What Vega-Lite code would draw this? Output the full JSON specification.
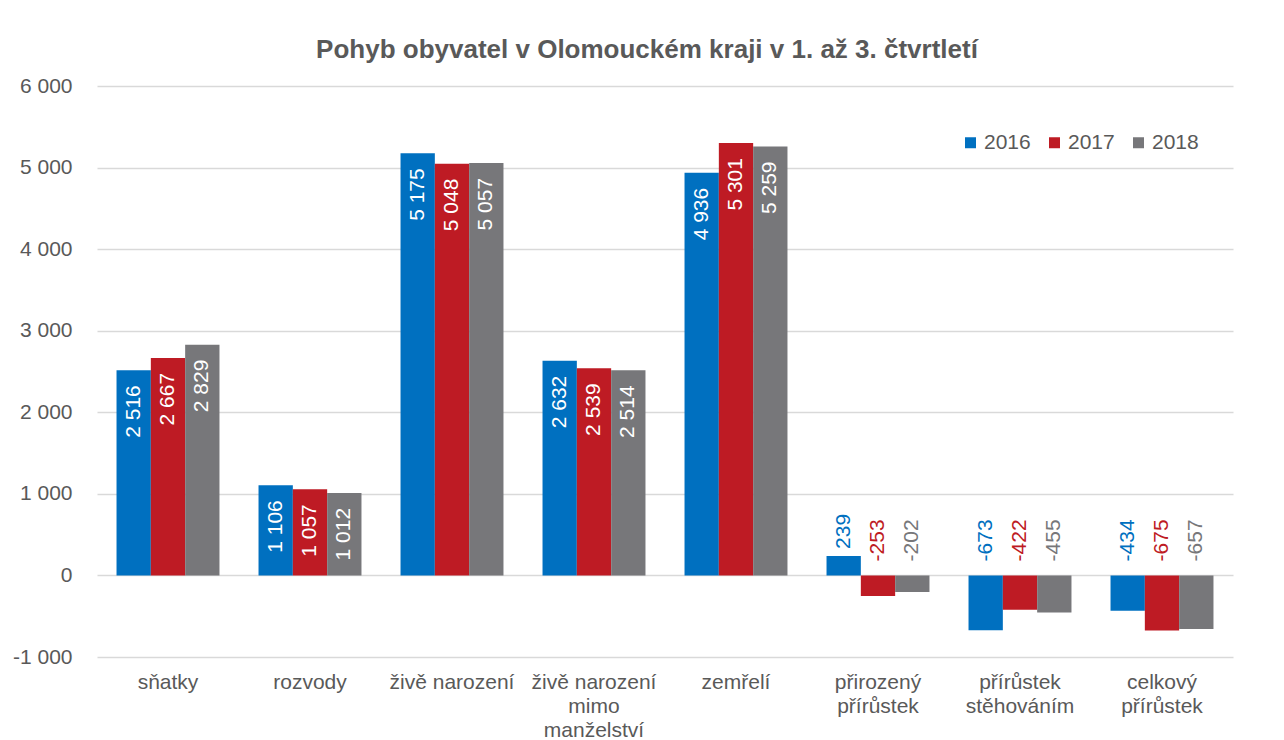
{
  "$schema": "https://vega.github.io/schema/vega-lite/v6.json",
  "width": 1136,
  "height": 571,
  "autosize": {"type": "none"},
  "padding": {"left": 97, "top": 86, "right": 51, "bottom": 83},
  "background": "white",
  "config": {
    "locale": {"number": {"decimal": ",", "thousands": " ", "grouping": [3], "currency": ["", " Kč"], "minus": "-"}},
    "font": "Liberation Sans",
    "view": {"stroke": null}
  },
  "title": {
    "text": "Pohyb obyvatel v Olomouckém kraji v 1. až 3. čtvrtletí",
    "fontSize": 26,
    "fontWeight": "bold",
    "color": "#595959",
    "font": "Liberation Sans",
    "anchor": "middle",
    "frame": "group",
    "dx": -18,
    "offset": 12
  },
  "data": {
    "values": [
      {"kat": "sňatky", "rok": "2016", "hodnota": 2516},
      {"kat": "sňatky", "rok": "2017", "hodnota": 2667},
      {"kat": "sňatky", "rok": "2018", "hodnota": 2829},
      {"kat": "rozvody", "rok": "2016", "hodnota": 1106},
      {"kat": "rozvody", "rok": "2017", "hodnota": 1057},
      {"kat": "rozvody", "rok": "2018", "hodnota": 1012},
      {"kat": "živě narození", "rok": "2016", "hodnota": 5175},
      {"kat": "živě narození", "rok": "2017", "hodnota": 5048},
      {"kat": "živě narození", "rok": "2018", "hodnota": 5057},
      {"kat": "živě narození|mimo|manželství", "rok": "2016", "hodnota": 2632},
      {"kat": "živě narození|mimo|manželství", "rok": "2017", "hodnota": 2539},
      {"kat": "živě narození|mimo|manželství", "rok": "2018", "hodnota": 2514},
      {"kat": "zemřelí", "rok": "2016", "hodnota": 4936},
      {"kat": "zemřelí", "rok": "2017", "hodnota": 5301},
      {"kat": "zemřelí", "rok": "2018", "hodnota": 5259},
      {"kat": "přirozený|přírůstek", "rok": "2016", "hodnota": 239},
      {"kat": "přirozený|přírůstek", "rok": "2017", "hodnota": -253},
      {"kat": "přirozený|přírůstek", "rok": "2018", "hodnota": -202},
      {"kat": "přírůstek|stěhováním", "rok": "2016", "hodnota": -673},
      {"kat": "přírůstek|stěhováním", "rok": "2017", "hodnota": -422},
      {"kat": "přírůstek|stěhováním", "rok": "2018", "hodnota": -455},
      {"kat": "celkový|přírůstek", "rok": "2016", "hodnota": -434},
      {"kat": "celkový|přírůstek", "rok": "2017", "hodnota": -675},
      {"kat": "celkový|přírůstek", "rok": "2018", "hodnota": -657}
    ]
  },
  "encoding": {
    "x": {
      "field": "kat",
      "type": "nominal",
      "sort": null,
      "scale": {"paddingInner": 0.275, "paddingOuter": 0.1375},
      "axis": {
        "title": null,
        "labelAngle": 0,
        "labelExpr": "split(datum.label, '|')",
        "labelFontSize": 21,
        "labelColor": "#595959",
        "labelFont": "Liberation Sans",
        "labelPadding": 14,
        "labelLineHeight": 24,
        "labelBaseline": "top",
        "domain": false,
        "ticks": false,
        "labelLimit": 300
      }
    },
    "xOffset": {"field": "rok", "type": "nominal", "scale": {"paddingInner": 0, "paddingOuter": 0}},
    "color": {
      "field": "rok",
      "type": "nominal",
      "scale": {"domain": ["2016", "2017", "2018"], "range": ["#0070C0", "#BE1B24", "#77777A"]},
      "legend": {
        "title": null,
        "orient": "none",
        "legendX": 863,
        "legendY": 46,
        "direction": "horizontal",
        "symbolType": "square",
        "symbolSize": 121,
        "symbolStrokeWidth": 0,
        "labelFontSize": 21,
        "labelColor": "#595959",
        "labelFont": "Liberation Sans",
        "labelOffset": 3,
        "columnPadding": 13
      }
    }
  },
  "layer": [
    {
      "mark": {"type": "bar"},
      "encoding": {
        "y": {
          "field": "hodnota",
          "type": "quantitative",
          "scale": {"domain": [-1000, 6000], "nice": false},
          "axis": {
            "title": null,
            "values": [-1000, 0, 1000, 2000, 3000, 4000, 5000, 6000],
            "format": ",d",
            "labelFontSize": 21,
            "labelColor": "#595959",
            "labelFont": "Liberation Sans",
            "labelPadding": 25,
            "domain": false,
            "ticks": false,
            "gridColor": "#D9D9D9",
            "gridWidth": 1.3
          }
        }
      }
    },
    {
      "transform": [{"filter": "datum.hodnota >= 1000"}],
      "mark": {"type": "text", "angle": 270, "align": "right", "baseline": "middle", "dx": -15, "fontSize": 21, "font": "Liberation Sans", "fill": "white"},
      "encoding": {
        "y": {"field": "hodnota", "type": "quantitative"},
        "text": {"field": "hodnota", "type": "quantitative", "format": ",d"},
        "color": {"value": "white"}
      }
    },
    {
      "transform": [{"filter": "datum.hodnota < 0"}],
      "mark": {"type": "text", "angle": 270, "align": "left", "baseline": "middle", "dx": 14, "fontSize": 21, "font": "Liberation Sans"},
      "encoding": {
        "y": {"datum": 0, "type": "quantitative"},
        "text": {"field": "hodnota", "type": "quantitative", "format": ",d"}
      }
    },
    {
      "transform": [{"filter": "datum.hodnota >= 0 && datum.hodnota < 1000"}],
      "mark": {"type": "text", "angle": 270, "align": "left", "baseline": "middle", "dx": 7, "fontSize": 21, "font": "Liberation Sans"},
      "encoding": {
        "y": {"field": "hodnota", "type": "quantitative"},
        "text": {"field": "hodnota", "type": "quantitative", "format": ",d"}
      }
    }
  ]
}
